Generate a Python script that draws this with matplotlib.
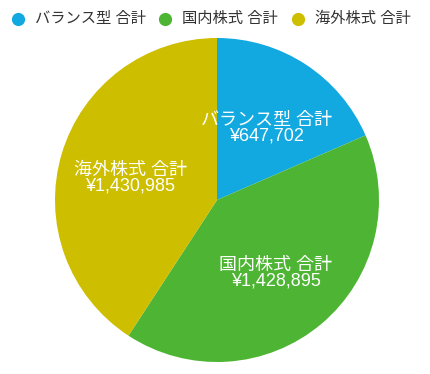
import matplotlib
matplotlib.use("Agg")
import matplotlib.pyplot as plt

plt.rcParams['font.family'] = ['Liberation Sans', 'Noto Sans CJK JP', 'DejaVu Sans']

# data
labels = ["バランス型 合計", "国内株式 合計", "海外株式 合計"]
values = [647702, 1428895, 1430985]
colors = ["#12A9E0", "#4DB533", "#CDBE00"]

W, H = 431, 374
fig = plt.figure(figsize=(W / 100, H / 100), dpi=100)

# pie centre ~ (217, 200) px, radius ~ 162 px
cx, cy, r = 217, 200, 162
ax = fig.add_axes([(cx - r) / W, (H - cy - r) / H, 2 * r / W, 2 * r / H])

wedges, texts = ax.pie(
    values,
    colors=colors,
    startangle=90,
    counterclock=False,
    labels=[f"{lab}\n¥{v:,}" for lab, v in zip(labels, values)],
    labeldistance=0.56,
    textprops=dict(color="white", fontsize=13, ha="center", va="center",
                   linespacing=0.9),
    wedgeprops=dict(linewidth=0),
)
for t in texts:
    x, y = t.get_position()
    t.set_position((x, y - 0.025))
ax.set_xlim(-1, 1)
ax.set_ylim(-1, 1)
ax.set_aspect("equal")
ax.axis("off")

# legend on top, placed by hand in pixel space
lax = fig.add_axes([0, 0, 1, 1])
lax.set_xlim(0, W)
lax.set_ylim(H, 0)
lax.axis("off")
marker_x = [18, 165, 298]
for mx, lab, c in zip(marker_x, labels, colors):
    lax.plot([mx], [19], marker="o", markersize=9.5, color=c,
             markeredgewidth=0, linestyle="")
    lax.text(mx + 17, 19, lab, fontsize=11, color="#333333",
             ha="left", va="center")

fig.savefig("out.png", dpi=100)
